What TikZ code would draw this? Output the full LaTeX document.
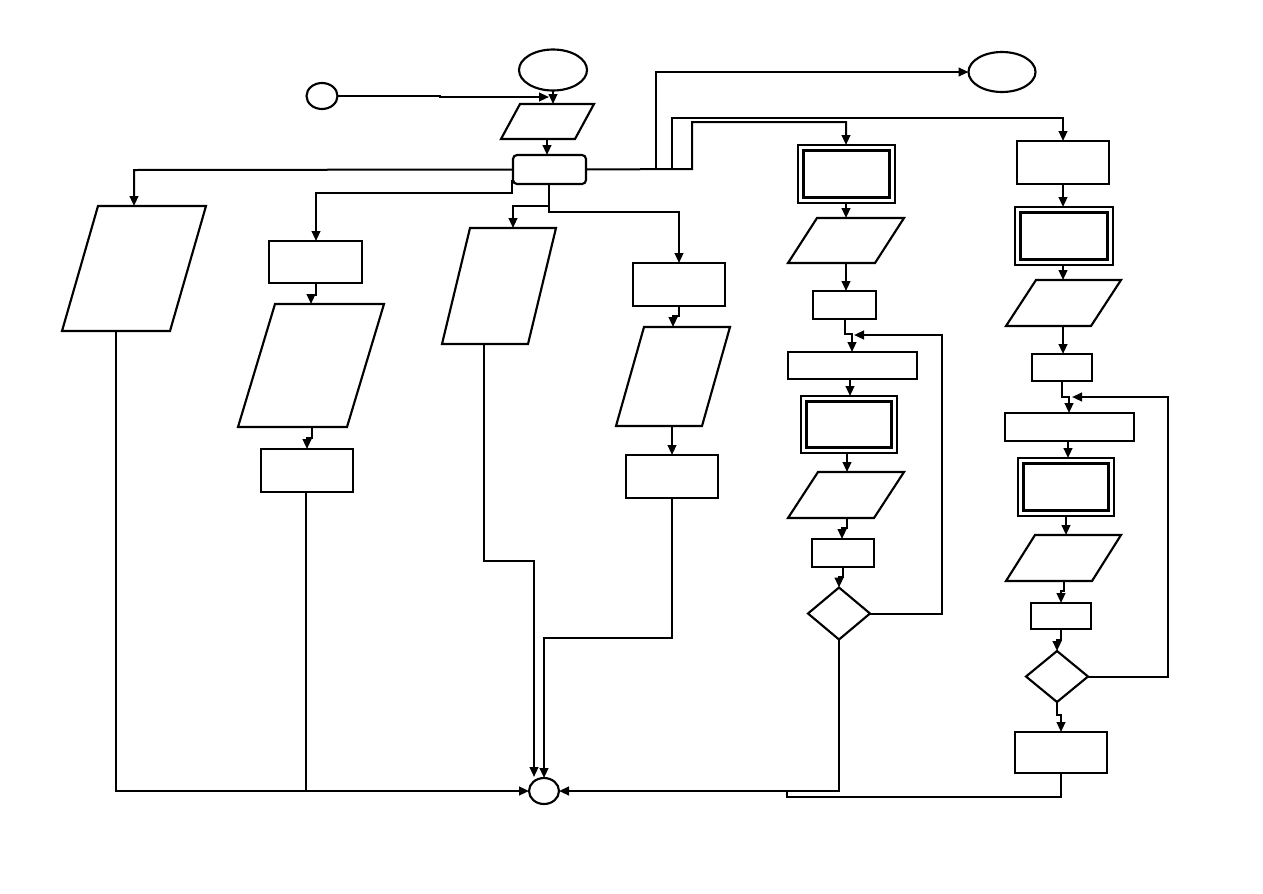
\documentclass[tikz,border=0pt]{standalone}
\usetikzlibrary{shapes.geometric,arrows.meta,calc}
\newdimen\unitpx \unitpx=0.75pt
\tikzset{
  shp/.style={draw, line width=1.6pt, line join=miter},
  rbox/.style={shp, rectangle, inner sep=0pt, outer sep=0pt},
  obox/.style={draw, line width=1.1pt, rectangle, inner sep=0pt, outer sep=0pt},
  ibox/.style={draw, line width=1.7pt, rectangle, inner sep=0pt, outer sep=0pt},
  ghost/.style={rectangle, inner sep=0pt, outer sep=0pt},
  oval/.style={shp, ellipse, inner sep=0pt, outer sep=0pt},
  dia/.style={shp, diamond, inner sep=0pt, outer sep=0pt},
  wire/.style={line width=1.5pt},
  arr/.style={wire, -{Triangle[length=7.5pt, width=6.5pt]}}
}
\newcommand\paragram[6]{%
  \node[ghost, minimum width=#4\unitpx, minimum height=#5\unitpx] (#1) at (#2,#3) {};
  \draw[shp] ($(#1.north west)+(#6,0)$) -- (#1.north east) -- ($(#1.south east)+(-#6,0)$) -- (#1.south west) -- cycle;}
\newcommand\dbox[5]{% name, cx, cy, w, h
  \node[obox, minimum width=#4\unitpx, minimum height=#5\unitpx] (#1) at (#2,#3) {};
  \node[ibox, minimum width={(#4-11)*\unitpx}, minimum height={(#5-11)*\unitpx}] (#1i) at (#2,#3) {};}
\begin{document}
\begin{tikzpicture}[x=0.75pt, y=-0.75pt]
\useasboundingbox (0,0) rectangle (1263,893);
\fill[white] (0,0) rectangle (1263,893);

% top
\node[oval, minimum width=31\unitpx, minimum height=26\unitpx] (s2) at (322,96) {};
\node[oval, minimum width=68\unitpx, minimum height=41\unitpx] (e1) at (553,70) {};
\node[oval, minimum width=67\unitpx, minimum height=40\unitpx] (e2) at (1002,72) {};
\node[oval, minimum width=30\unitpx, minimum height=26\unitpx] (fin) at (544,791) {};
\paragram{p0}{547.5}{121.5}{93}{35}{19}
\node[rbox, rounded corners=4\unitpx, minimum width=73\unitpx, minimum height=29\unitpx] (r0) at (549.5,169.5) {};

% column 1
\paragram{p1}{134}{268.5}{144}{125}{36}
% column 2
\node[rbox, minimum width=93\unitpx, minimum height=42\unitpx] (b2a) at (315.5,262) {};
\paragram{p2}{311}{365.5}{146}{123}{37}
\node[rbox, minimum width=92\unitpx, minimum height=43\unitpx] (b2b) at (307,470.5) {};
% column 3
\paragram{p3}{499}{286}{114}{116}{28}
% column 4
\node[rbox, minimum width=92\unitpx, minimum height=43\unitpx] (b4a) at (679,284.5) {};
\paragram{p4}{673}{376.5}{114}{99}{28}
\node[rbox, minimum width=92\unitpx, minimum height=43\unitpx] (b4b) at (672,476.5) {};
% column 5
\dbox{d5a}{846.5}{174}{97}{58}
\paragram{p5a}{846}{240.5}{116}{45}{29}
\node[rbox, minimum width=63\unitpx, minimum height=28\unitpx] (b5a) at (844.5,305) {};
\node[rbox, minimum width=129\unitpx, minimum height=27\unitpx] (w5) at (852.5,365.5) {};
\dbox{d5b}{849}{424.5}{96}{57}
\paragram{p5b}{846}{495}{116}{46}{30}
\node[rbox, minimum width=62\unitpx, minimum height=28\unitpx] (b5b) at (843,553) {};
\node[dia, minimum width=62\unitpx, minimum height=52\unitpx, aspect=1.19] (q5) at (839,613.5) {};
% column 6
\node[rbox, minimum width=92\unitpx, minimum height=43\unitpx] (b6a) at (1063,162.5) {};
\dbox{d6a}{1064}{236}{98}{58}
\paragram{p6a}{1063.5}{303}{115}{46}{30}
\node[rbox, minimum width=60\unitpx, minimum height=27\unitpx] (b6b) at (1062,367.5) {};
\node[rbox, minimum width=129\unitpx, minimum height=28\unitpx] (w6) at (1069.5,427) {};
\dbox{d6b}{1066}{487}{96}{58}
\paragram{p6b}{1063.5}{558}{115}{46}{29}
\node[rbox, minimum width=60\unitpx, minimum height=26\unitpx] (b6c) at (1061,616) {};
\node[dia, minimum width=62\unitpx, minimum height=51\unitpx, aspect=1.21] (q6) at (1057,676.5) {};
\node[rbox, minimum width=92\unitpx, minimum height=41\unitpx] (b6d) at (1061,752.5) {};

% ---- connectors ----
\draw[arr] (s2.east) -- (440,96) -- (440,97) -- (549,97);
\draw[arr] (e1.south) -- (553,104);
\draw[arr] (547,139) -- (547,155);
% branches from r0
\draw[arr] (r0.west) -- (134,170) -- (134,206);
\draw[arr] (512,180) -- (512,193) -- (316,193) -- (316,241);
\draw[arr] (549,184) -- (549,212) -- (679,212) -- (b4a.north);
\draw[arr] (549,206) -- (513,206) -- (513,228);
\draw[arr] (r0.east) -- (692,169) -- (692,122) -- (846,122) -- (846,145);
\draw[arr] (656,169) -- (656,72) -- (e2.west);
\draw[arr] (672,169) -- (672,118) -- (1063,118) -- (b6a.north);
% column 1
\draw[arr] (116,331) -- (116,791) -- (fin.west);
% column 2
\draw[arr] (316,283) -- (316,295) -- (311,295) -- (311,304);
\draw[arr] (312,427) -- (312,438) -- (307,438) -- (b2b.north);
\draw[wire] (306,492) -- (306,791);
% column 3
\draw[arr] (484,344) -- (484,561) -- (534,561) -- (534,777);
% column 4
\draw[arr] (b4a.south) -- (679,316) -- (673,316) -- (673,327);
\draw[arr] (672,426) -- (b4b.north);
\draw[arr] (b4b.south) -- (672,638) -- (544,638) -- (fin.north);
% column 5
\draw[arr] (846,203) -- (846,218);
\draw[arr] (846,263) -- (846,291);
\draw[arr] (845,319) -- (845,334) -- (852,334) -- (852,352);
\draw[arr] (850,379) -- (850,396);
\draw[arr] (847,453) -- (847,472);
\draw[arr] (847,518) -- (847,528) -- (842,528) -- (842,539);
\draw[arr] (b5b.south) -- (843,577) -- (839,577) -- (q5.north);
\draw[arr] (q5.east) -- (942,613.5) -- (942,335) -- (854,335);
\draw[arr] (q5.south) -- (839,791) -- (fin.east);
% column 6
\draw[arr] (b6a.south) -- (1063,207);
\draw[arr] (1063,265) -- (1063,280);
\draw[arr] (1063,326) -- (1063,354);
\draw[arr] (b6b.south) -- (1062,397) -- (1069,397) -- (1069,413);
\draw[arr] (1068,441) -- (1068,458);
\draw[arr] (d6b.south) -- (1066,535);
\draw[arr] (1064,581) -- (1064,591) -- (1061,591) -- (b6c.north);
\draw[arr] (b6c.south) -- (1061,640) -- (1057,640) -- (q6.north);
\draw[arr] (q6.east) -- (1168,676.5) -- (1168,397) -- (1072,397);
\draw[arr] (q6.south) -- (1057,715) -- (1061,715) -- (b6d.north);
\draw[wire] (b6d.south) -- (1061,797) -- (787,797) -- (787,791);
\end{tikzpicture}
\end{document}
